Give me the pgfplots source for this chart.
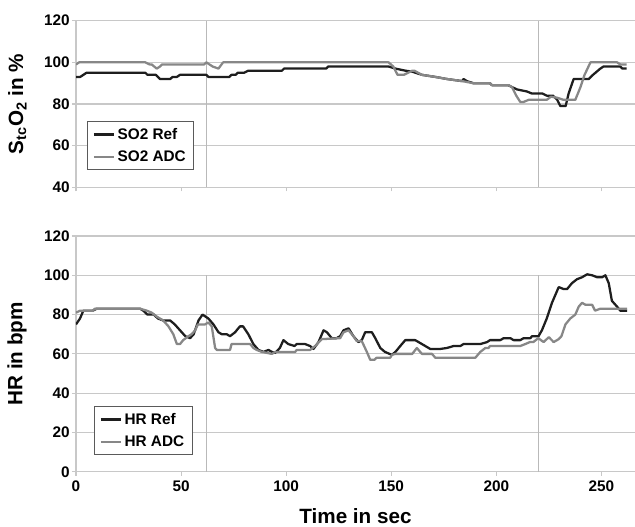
\documentclass[border=0pt]{standalone}
\usepackage{fontspec}
\setmainfont{Liberation Sans}
\usepackage{pgfplots}
\pgfplotsset{compat=1.18}

\definecolor{refblack}{RGB}{30,30,30}
\definecolor{adcgray}{RGB}{135,135,135}
\definecolor{gridgray}{RGB}{200,200,200}
\definecolor{markgray}{RGB}{185,185,185}
\definecolor{boxgray}{RGB}{90,90,90}

\pgfplotsset{
  panel/.style={
    scale only axis, width=419.25pt,
    xmin=0, xmax=266,
    axis x line*=bottom, axis y line*=left,
    axis line style={-, draw=gridgray, line width=0.8pt},
    ymajorgrids, grid style={draw=gridgray, line width=0.8pt},
    tick align=outside, major tick length=3pt,
    tick style={draw=gridgray, line width=0.8pt},
    xtick={0,50,...,250},
    /pgf/number format/assume math mode=true,
    tick label style={font=\fontsize{11.5}{13}\selectfont\bfseries},
    yticklabel style={inner xsep=1.5pt},
    label style={font=\fontsize{15.5}{18}\selectfont\bfseries},
    ylabel style={at={(axis description cs:-0.0877,0.5)}, anchor=south, inner sep=0pt},
    legend style={font=\fontsize{11.5}{13}\selectfont\bfseries, draw=boxgray,
      line width=0.6pt, cells={anchor=west}, row sep=3pt,
      inner xsep=4pt, inner ysep=3pt, anchor=north west},
    legend image code/.code={\draw[#1] (0pt,0pt) -- (15pt,0pt);},
    ref/.style={refblack, line width=1.7pt, line join=round},
    adc/.style={adcgray, line width=1.7pt, line join=round},
    marker/.style={markgray, line width=0.7pt, forget plot},
  },
}

\begin{document}
\begin{tikzpicture}
\useasboundingbox (-57pt,-40.7pt) rectangle (419.25pt,353.8pt);

% top panel: StcO2
\begin{axis}[panel, at={(0pt,213.3pt)}, height=125pt,
    ymin=40, ymax=120, ytick={40,60,80,100,120},
    xticklabels={},
    ylabel={S\textsubscript{tc}O\textsubscript{2} in \%},
    legend style={at={(axis description cs:0.0197,0.398)}},
]
\addplot[marker] coordinates {(62,40)(62,120)};
\addplot[marker] coordinates {(220,40)(220,120)};
\addplot[ref] coordinates {
 (0,93)(2,93)(3.5,94)(5,95)(33,95)(34,94)(38,94)(40,92)(44.8,92)(46,93)(48,93)
 (49.5,94)(62,94)(63,93)(73,93)(74,94)(76,94)(77,95)(80,95)(82,96)(98,96)(99,97)
 (119,97)(120,98)(148.7,98)(152,97)(156.7,96)(160,95.5)(164.6,94)(171,93)
 (176.5,92)(183.7,91)(184.4,92)(186,91)(189,90)(197,90)(198,89)(205.7,89)
 (209.8,87)(214.6,86)(217,85)(222,85)(224,84)(227,84)(229,82)(230.5,79)(233,79)
 (234.4,85)(236.8,92)(244,92)(246,94)(249.5,97)(251,98)(259,98)(260,97)(262,97)
};
\addlegendentry{SO2 Ref}
\addplot[adc] coordinates {
 (0,99)(1.5,100)(33,100)(35,99)(36,99)(38.4,97)(40,98)(41,99)(61,99)(62,100)
 (63.5,99)(65,98)(67.8,97)(70,100)(148.7,100)(151,98)(153,94)(156,94)(158,95)
 (160,96)(161,96)(164.6,94)(171,93)(176.5,92)(183.7,91)(189,90)(197,90)(198,89)
 (206,89)(207.5,88)(209.5,84)(211.4,81)(213,81)(215.4,82)(224,82)(226,83.5)
 (229,83)(232,82)(237.6,82)(240,88)(242,94)(244.8,100)(257.5,100)(259,99)(262,99)
};
\addlegendentry{SO2 ADC}
\end{axis}

% bottom panel: HR
\begin{axis}[panel, at={(0pt,0pt)}, height=176.8pt,
    ymin=0, ymax=120, ytick={0,20,...,120},
    xlabel={Time in sec},
    xlabel style={at={(axis description cs:0.5,-0.153)}, anchor=north, inner sep=0pt},
    ylabel={HR in bpm},
    legend style={at={(axis description cs:0.032,0.279)}},
]
\addplot[marker] coordinates {(62,0)(62,100)};
\addplot[marker] coordinates {(220,0)(220,100)};
\addplot[ref] coordinates {
 (0,75)(1.9,78)(3.5,82)(8,82)(9.8,83)(30.5,83)(32,82)(34,80)(37,80)(39,78)
 (41.5,77)(44.8,77)(47,75)(49.5,72)(52,69)(54.3,68)(56,70)(58.3,77)(60.2,80)
 (63,78)(65.4,75)(67.8,71)(69.4,70)(71.7,70)(73.3,69)(75.7,71)(78,74)(79.5,74)
 (82,70)(84.4,65)(86.8,62)(89.2,61)(91.6,62)(93.2,61)(94.8,60.5)(97,63)(98.7,67)
 (101,65)(104,64)(105,65)(109,65)(111.4,64)(113,62.5)(115.4,66)(117.8,72)
 (119.4,71)(121.7,68)(124,68)(125.7,69)(127.3,72)(129.7,73)(132,69)(134.4,66)
 (136,67)(137.6,71)(140.8,71)(142.4,68)(144.8,63)(147,61)(150.3,59.5)(152,61)
 (154.3,64)(156.7,67)(161.4,67)(163,66)(166.2,64)(168.6,62.5)(173.3,62.5)
 (176.5,63)(179.7,64)(182.9,64)(184.4,65)(192.4,65)(195.6,66)(197,67)(201.9,67)
 (203.5,68)(206.7,68)(208.2,67)(211.4,67)(213,68)(216.2,68)(217,69)(220.1,69)
 (221.7,72)(224,78)(226.5,86)(229.7,94)(232,93)(233.7,93)(236,96)(238.4,98)
 (240.8,99)(243.2,100.5)(245.6,100)(248,99)(250.3,99)(251.9,100)(253.5,96)
 (255,87)(257.5,84)(259,82)(262.2,82)
};
\addlegendentry{HR Ref}
\addplot[adc] coordinates {
 (0,81)(2,82)(8,82)(9,83)(30.5,83)(33.7,82)(36,81)(38.4,79)(41.5,77)(44,74)
 (46.3,70)(48,65)(49.5,65)(51,67)(53.5,69)(55,70)(56.7,72)(58,75)(61.4,75)(63,76)
 (64.6,74)(66.2,63)(67,62)(73.3,62)(74,65)(82.9,65)(84.4,63)(86,62)(88.4,61)
 (93.2,60)(94.8,61)(104.3,61)(105,62)(111.4,62)(113.8,64)(117,67.5)(125.7,68)
 (127.3,71)(129.7,72)(132,69)(133.6,66.5)(136,66.5)(138.4,61)(140,57)(142,57)
 (143,58)(149.5,58)(150.3,59.5)(152,60)(160,60)(162.2,63)(164.6,60)(169.4,60)
 (171,58)(190,58)(192.4,61)(194.8,63)(196.3,63)(197,64)(211.4,64)(213.8,65)
 (216,66)(217.6,66)(220,68)(222.5,66)(225,68.5)(227.3,66)(229.7,67.5)(231,69)
 (232.9,75)(235.2,78)(237.6,80)(239.2,84)(240.8,86)(242.4,85)(245.6,85)(247,82)
 (249.5,83)(262.2,83)
};
\addlegendentry{HR ADC}
\end{axis}
\end{tikzpicture}
\end{document}
